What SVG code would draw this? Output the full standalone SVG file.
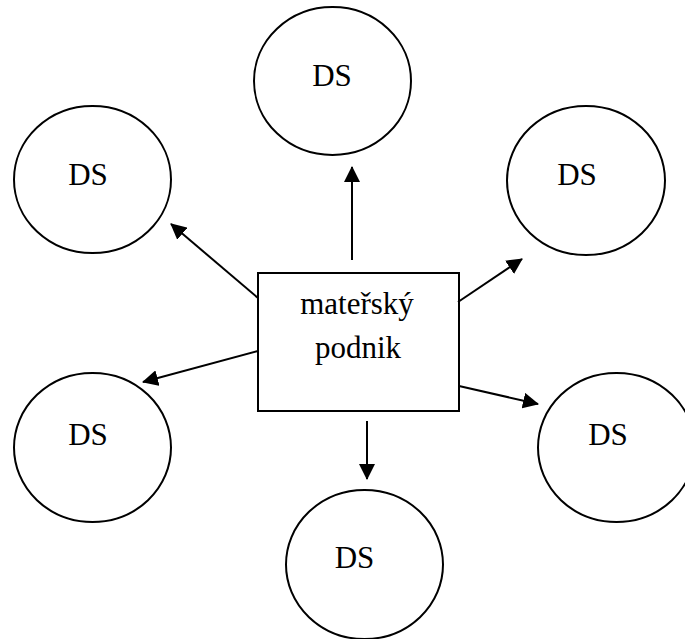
<svg xmlns="http://www.w3.org/2000/svg" width="685" height="639" viewBox="0 0 685 639">
  <style>
    .node { fill: #ffffff; stroke: #000000; stroke-width: 2; }
    .label { font-family: "Liberation Serif", "Times New Roman", serif; font-size: 31px; fill: #000000; text-anchor: middle; }
    .edge { stroke: #000000; stroke-width: 2; fill: none; marker-end: url(#arrow); }
  </style>
  <defs>
    <marker id="arrow" markerUnits="userSpaceOnUse" markerWidth="16" markerHeight="16" refX="15" refY="8" orient="auto">
      <path d="M0,0 L16,8 L0,16 z" fill="#000000"/>
    </marker>
  </defs>
  <rect width="685" height="639" fill="#ffffff"/>

  <!-- parent company -->
  <g id="parent">
    <rect class="node" x="258" y="273" width="201" height="138"/>
    <text class="label" x="357" y="314">mateřský</text>
    <text class="label" x="358" y="358">podnik</text>
  </g>

  <!-- subsidiaries -->
  <g id="ds-top">
    <ellipse class="node" cx="332.5" cy="81" rx="78.5" ry="74"/>
    <text class="label" x="332" y="86">DS</text>
  </g>
  <g id="ds-upper-left">
    <ellipse class="node" cx="92.5" cy="179.5" rx="78.5" ry="73.5"/>
    <text class="label" x="88" y="185">DS</text>
  </g>
  <g id="ds-upper-right">
    <ellipse class="node" cx="586" cy="180.5" rx="79" ry="74.5"/>
    <text class="label" x="577" y="185">DS</text>
  </g>
  <g id="ds-left">
    <ellipse class="node" cx="92.5" cy="447.5" rx="78.5" ry="74.5"/>
    <text class="label" x="88" y="445">DS</text>
  </g>
  <g id="ds-right">
    <ellipse class="node" cx="616.5" cy="447.5" rx="78.5" ry="74.5"/>
    <text class="label" x="608" y="445">DS</text>
  </g>
  <g id="ds-bottom">
    <ellipse class="node" cx="364.5" cy="564.5" rx="78.5" ry="74.5"/>
    <text class="label" x="354.5" y="568">DS</text>
  </g>

  <!-- connectors -->
  <g id="connectors">
    <line class="edge" x1="352" y1="260" x2="352" y2="167"/>
    <line class="edge" x1="258" y1="298" x2="171" y2="224"/>
    <line class="edge" x1="458" y1="302" x2="522" y2="259"/>
    <line class="edge" x1="258" y1="351" x2="143" y2="382"/>
    <line class="edge" x1="459" y1="386" x2="538" y2="404"/>
    <line class="edge" x1="367" y1="421" x2="367" y2="479"/>
  </g>
</svg>
